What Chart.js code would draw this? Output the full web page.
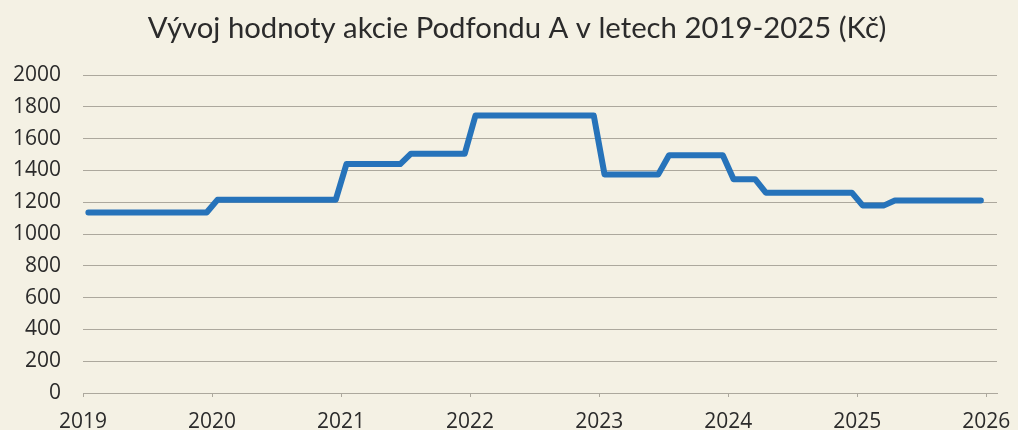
<!DOCTYPE html>
<html lang="cs">
<head>
<meta charset="utf-8">
<title>Vývoj hodnoty akcie Podfondu A</title>
<script src="https://cdn.jsdelivr.net/npm/chart.js@4.4.1/dist/chart.umd.min.js"></script>
<style>
  html, body { margin: 0; padding: 0; background: #f4f1e4; }
  #wrap { width: 1018px; height: 430px; }
</style>
</head>
<body>
<div id="wrap"><canvas id="graf" width="1018" height="430"></canvas></div>
<script>
// popisky osy x (roky)
const roky = ['2019', '2020', '2021', '2022', '2023', '2024', '2025', '2026'];

// měsíční hodnota akcie v Kč, leden 2019 - prosinec 2025
const hodnoty = [
  1135, 1135, 1135, 1135, 1135, 1135, 1135, 1135, 1135, 1135, 1135, 1135, // 2019
  1215, 1215, 1215, 1215, 1215, 1215, 1215, 1215, 1215, 1215, 1215, 1215, // 2020
  1440, 1440, 1440, 1440, 1440, 1440, 1505, 1505, 1505, 1505, 1505, 1505, // 2021
  1745, 1745, 1745, 1745, 1745, 1745, 1745, 1745, 1745, 1745, 1745, 1745, // 2022
  1375, 1375, 1375, 1375, 1375, 1375, 1495, 1495, 1495, 1495, 1495, 1495, // 2023
  1345, 1345, 1345, 1260, 1260, 1260, 1260, 1260, 1260, 1260, 1260, 1260, // 2024
  1180, 1180, 1180, 1210, 1210, 1210, 1210, 1210, 1210, 1210, 1210, 1210  // 2025
];

const nadpis = 'Vývoj hodnoty akcie Podfondu A v letech 2019-2025 (Kč)';

// osa y
const yMin = 0;
const yMax = 2000;
const yKrok = 200;

const pozadi = '#f4f1e4';
const mrizka = '#aca89d';
const text = '#2b2b2b';
const pismoOsy = '"Open Sans", Lato, sans-serif';

// body v polovině měsíce (osa x je v měsících od ledna 2019)
const body = hodnoty.map((v, i) => ({ x: i + 0.5, y: v }));

// pozadí plátna a nadpis (nadpis není vystředěný na celé plátno)
const pozadiPlugin = {
  id: 'pozadi',
  beforeDraw(chart) {
    const ctx = chart.ctx;
    ctx.save();
    ctx.fillStyle = pozadi;
    ctx.fillRect(0, 0, chart.width, chart.height);
    ctx.restore();
  },
  afterDraw(chart) {
    const ctx = chart.ctx;
    ctx.save();
    ctx.font = '29.3px Lato, "Open Sans", sans-serif';
    ctx.fillStyle = text;
    ctx.textAlign = 'center';
    ctx.textBaseline = 'middle';
    ctx.fillText(nadpis, 517, 29);
    ctx.restore();
  }
};

Chart.defaults.font.family = 'Lato, "Open Sans", sans-serif';

new Chart(document.getElementById('graf').getContext('2d'), {
  type: 'line',
  data: {
    datasets: [{
      label: 'Hodnota akcie',
      data: body,
      borderColor: '#2673ba',
      borderWidth: 6,
      borderJoinStyle: 'round',
      borderCapStyle: 'round',
      pointRadius: 0,
      tension: 0,
      fill: false
    }]
  },
  options: {
    responsive: false,
    animation: false,
    layout: { padding: { left: 0, right: 21, top: 75, bottom: 0 } },
    plugins: {
      legend: { display: false },
      tooltip: { enabled: false },
      title: { display: false }
    },
    scales: {
      x: {
        type: 'linear',
        min: 0,
        max: 85,
        afterBuildTicks: (scale) => {
          scale.ticks = roky.map((r, i) => ({ value: i * 12 }));
        },
        afterFit: (scale) => {
          scale.height = 37;
          scale.paddingLeft = 0;
          scale.paddingRight = 0;
        },
        ticks: {
          color: text,
          font: { size: 21, family: pismoOsy },
          padding: 12,
          maxRotation: 0,
          autoSkip: false,
          callback: (v) => roky[Math.round(v / 12)]
        },
        grid: { drawOnChartArea: false, drawTicks: true, tickLength: 4, color: mrizka },
        border: { display: true, color: mrizka }
      },
      y: {
        min: yMin,
        max: yMax,
        afterFit: (scale) => { scale.width = 83; },
        ticks: {
          stepSize: yKrok,
          color: text,
          font: { size: 21, family: pismoOsy },
          padding: 22,
          callback: (v) => String(v)
        },
        grid: { color: mrizka, drawTicks: false },
        border: { display: false }
      }
    }
  },
  plugins: [pozadiPlugin]
});
</script>
</body>
</html>
